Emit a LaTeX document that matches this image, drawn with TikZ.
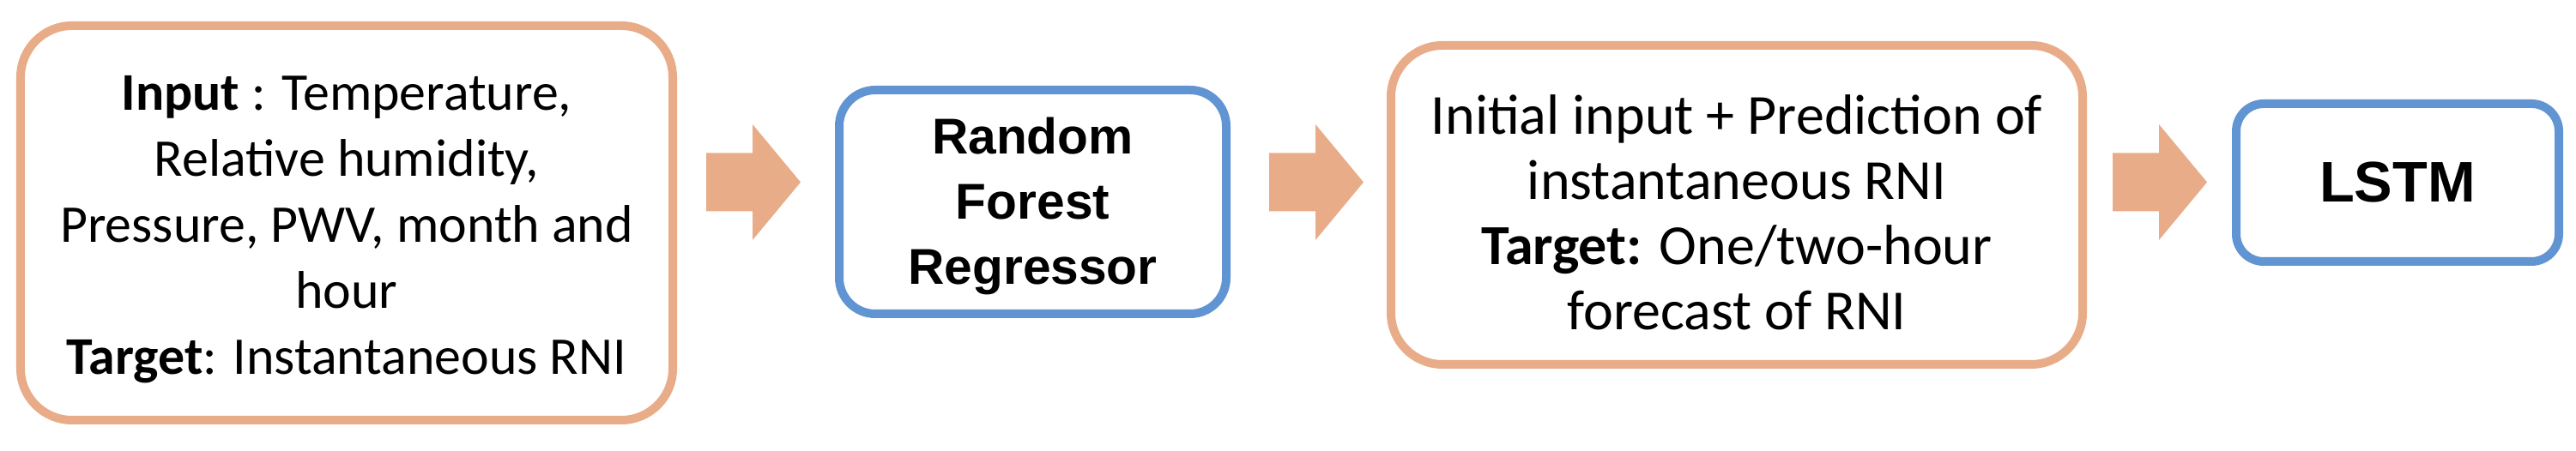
\documentclass[tikz,border=0pt]{standalone}
\usepackage{fontspec}
\setmainfont{Carlito}
\newfontfamily\arialfont{Liberation Sans}
\usetikzlibrary{calc}
\definecolor{orangeline}{HTML}{E8AC88}
\definecolor{blueline}{HTML}{6194D2}
\tikzset{
  box/.style={draw, line width=0.1cm, inner sep=0pt, fill=white},
  orangebox/.style={box, draw=orangeline},
  bluebox/.style={box, draw=blueline},
  label text/.style={align=center, inner sep=0pt, text=black},
  blockarrow/.pic={\fill[orangeline] (0,0.34) -- (0.54,0.34) -- (0.54,0.675) -- (1.10,0) -- (0.54,-0.675) -- (0.54,-0.34) -- (0,-0.34) -- cycle;}
}
\begin{document}
\begin{tikzpicture}
\useasboundingbox (0,0) rectangle (30.02,5.26);
% boxes
\node[orangebox, minimum width=7.6cm, minimum height=4.6cm, rounded corners=0.6cm] (inp) at (4.04,2.66) {};
\node[bluebox, minimum width=4.51cm, minimum height=2.61cm, rounded corners=0.42cm] (rf) at (12.035,2.905) {};
\node[orangebox, minimum width=8.06cm, minimum height=3.72cm, rounded corners=0.6cm] (mid) at (20.24,2.87) {};
\node[bluebox, minimum width=3.76cm, minimum height=1.84cm, rounded corners=0.32cm] (lstm) at (27.94,3.13) {};
% texts
\node[label text, font=\fontsize{17.6}{21.9}\selectfont] (inptext) at ($(inp.center)+(0,-0.08)$)
  {\textbf{Input} : Temperature,\\ Relative humidity,\\ Pressure, PWV, month and\\ hour\\ \textbf{Target}: Instantaneous RNI};
\node[label text, font=\arialfont\bfseries\fontsize{16.7}{21.6}\selectfont] (rftext) at ($(rf.center)+(0,-0.05)$)
  {Random\\ Forest\\ Regressor};
\node[label text, font=\fontsize{18.8}{21.6}\selectfont] (midtext) at ($(mid.center)+(0,-0.09)$)
  {Initial input + Prediction of\\ instantaneous RNI\\ \textbf{Target:} One/two-hour\\ forecast of RNI};
\node[label text, font=\arialfont\bfseries\fontsize{19}{22}\selectfont] (lstmtext) at (lstm.center)
  {LSTM};
% block arrows
\pic at (8.23,3.135) {blockarrow};
\pic at (14.79,3.135) {blockarrow};
\pic at (24.62,3.135) {blockarrow};
\end{tikzpicture}
\end{document}
